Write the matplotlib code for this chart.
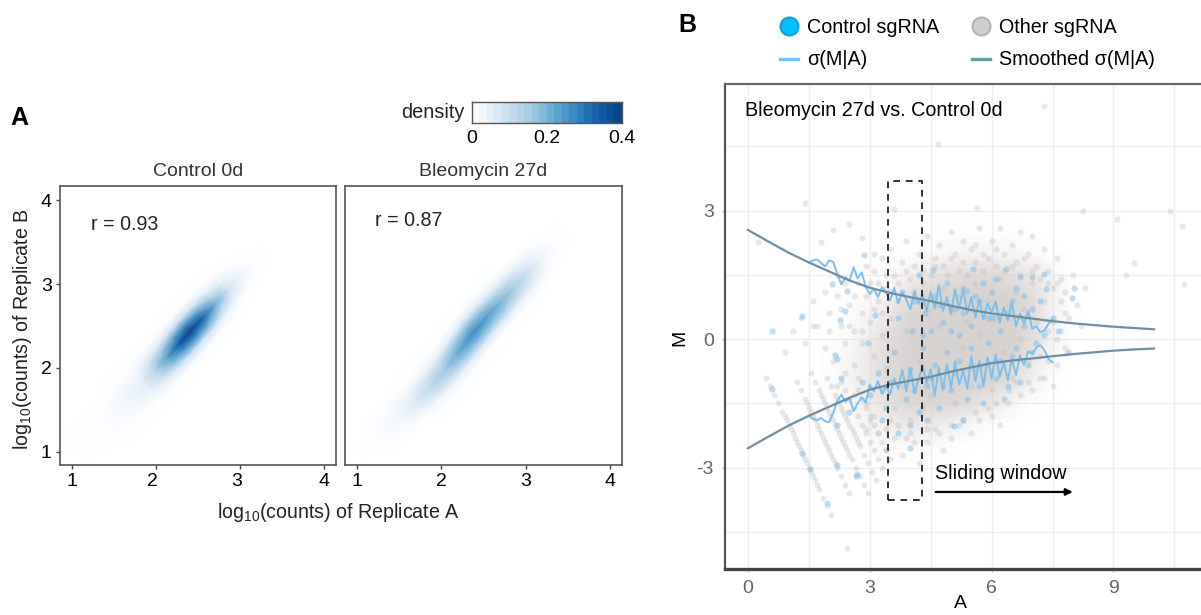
import numpy as np
import matplotlib
matplotlib.use("Agg")
import matplotlib.pyplot as plt
from matplotlib.colors import LinearSegmentedColormap
from matplotlib.lines import Line2D
from matplotlib.patches import Rectangle
from matplotlib.transforms import ScaledTranslation

plt.rcParams["font.family"] = ["Liberation Sans", "DejaVu Sans"]
plt.rcParams["mathtext.default"] = "regular"

W, H = 1201, 615

# panel A: density read across the ridge at each station along it
offsets = [-0.45, -0.3, -0.2, -0.1, 0, 0.1, 0.2, 0.3, 0.45]

ctrl_a = [0.95, 1.2, 1.45, 1.65, 1.85, 2.0, 2.15, 2.28, 2.4, 2.55, 2.7, 2.85, 3.0, 3.15, 3.35]
ctrl_b = [0.95, 1.15, 1.38, 1.6, 1.82, 1.98, 2.14, 2.29, 2.43, 2.59, 2.76, 2.93, 3.09, 3.26, 3.48]
ctrl_density = [
    [0, 0, 0, 0, 0, 0, 0, 0, 0],
    [0, .002, .004, .006, .007, .006, .005, .003, 0],
    [0, .003, .006, .010, .012, .012, .009, .005, 0],
    [0, .004, .012, .022, .027, .024, .015, .006, 0],
    [0, .005, .018, .040, .055, .050, .028, .008, 0],
    [0, .008, .040, .100, .140, .110, .050, .012, 0],
    [0, .010, .060, .170, .250, .190, .070, .015, 0],
    [0, .012, .080, .240, .350, .250, .090, .015, 0],
    [0, .012, .090, .270, .400, .270, .090, .012, 0],
    [0, .010, .080, .230, .340, .220, .070, .010, 0],
    [0, .006, .050, .140, .210, .130, .040, .005, 0],
    [0, .004, .020, .060, .090, .060, .015, .002, 0],
    [0, .002, .008, .020, .030, .020, .006, .001, 0],
    [0, 0, .002, .005, .008, .005, .002, 0, 0],
    [0, 0, 0, 0, 0, 0, 0, 0, 0],
]

bleo_a = [0.95, 1.2, 1.5, 1.7, 1.87, 2.05, 2.2, 2.38, 2.55, 2.7, 2.85, 3.0, 3.15, 3.3, 3.5]
bleo_b = [0.9, 1.1, 1.42, 1.6, 1.77, 1.98, 2.18, 2.42, 2.62, 2.78, 2.95, 3.11, 3.29, 3.47, 3.68]
bleo_density = [
    [0, 0, 0, 0, 0, 0, 0, 0, 0],
    [0, .001, .003, .005, .006, .005, .003, .001, 0],
    [0, .003, .010, .022, .030, .022, .010, .003, 0],
    [0, .004, .018, .050, .070, .050, .018, .004, 0],
    [0, .005, .028, .085, .115, .085, .028, .005, 0],
    [0, .006, .038, .115, .160, .115, .038, .006, 0],
    [0, .007, .052, .160, .220, .160, .052, .007, 0],
    [0, .008, .065, .195, .270, .195, .065, .008, 0],
    [0, .007, .058, .175, .240, .175, .058, .007, 0],
    [0, .006, .048, .145, .200, .145, .048, .006, 0],
    [0, .005, .036, .110, .150, .110, .036, .005, 0],
    [0, .003, .024, .070, .100, .070, .024, .003, 0],
    [0, .002, .010, .028, .040, .028, .010, .002, 0],
    [0, 0, .003, .009, .012, .009, .003, 0, 0],
    [0, 0, 0, 0, 0, 0, 0, 0, 0],
]

# panel B: how full the point cloud looks, rows M=3 .. -3, columns A=2 .. 8
cloud = [
    [0, 0, 0, 0, 0, 0, 0, 0, 0, 0, 0, 0, 0],
    [0, 0, 0, 0, 0, 0, .03, .03, .03, .03, 0, 0, 0],
    [0, 0, 0, 0, .04, .12, .2, .22, .22, .2, .12, .03, 0],
    [0, 0, .02, .12, .3, .55, .72, .8, .8, .7, .5, .2, 0],
    [0, .03, .1, .35, .7, .95, 1, 1, 1, .95, .75, .3, .02],
    [.02, .08, .25, .6, .95, 1, 1, 1, 1, 1, .8, .3, .02],
    [.03, .14, .4, .8, 1, 1, 1, 1, 1, 1, .75, .25, .01],
    [.05, .2, .5, .85, 1, 1, 1, 1, 1, .95, .55, .15, 0],
    [.06, .22, .5, .85, 1, 1, 1, 1, .95, .7, .3, .05, 0],
    [.05, .18, .4, .7, .88, .92, .88, .75, .5, .22, .05, 0, 0],
    [.03, .1, .22, .4, .5, .5, .35, .2, .08, .02, 0, 0, 0],
    [.01, .04, .08, .12, .12, .1, .05, .01, 0, 0, 0, 0, 0],
    [0, 0, 0, 0, 0, 0, 0, 0, 0, 0, 0, 0, 0],
]

other_points = [
    (7.3, 5.45), (4.67, 4.55), (1.4, 3.18), (5.63, 3.06), (8.26, 3.0), (10.4, 3.0), (10.7, 2.64), (9.1, 2.8),
    (9.5, 1.78), (10.75, 1.28), (9.3, 1.5), (3.6, 3.05), (2.5, 2.7), (2.1, 2.56), (2.8, 2.37), (1.8, 2.27),
    (0.25, 2.27), (2.44, -4.88), (3.1, 1.6), (3.3, 1.9), (3.5, 2.1), (3.6, 1.5), (3.8, 1.8), (3.9, 2.3),
    (4.0, 1.4), (4.2, 2.0), (4.3, 1.6), (4.4, 2.4), (4.6, 1.9), (4.7, 2.2), (4.8, 1.7), (5.0, 2.5),
    (5.1, 2.0), (5.2, 1.6), (5.3, 2.3), (5.5, 2.1), (5.6, 1.8), (5.7, 2.6), (5.8, 2.0), (6.0, 2.3),
    (6.1, 1.7), (6.2, 2.6), (6.3, 2.0), (6.5, 2.2), (6.6, 1.8), (6.7, 2.5), (6.9, 2.0), (7.0, 2.4),
    (7.1, 1.7), (7.3, 2.1), (7.4, 1.6), (7.6, 1.9), (7.7, 1.4), (7.8, 1.1), (8.0, 1.5), (8.3, 1.2),
    (8.1, 0.8), (7.9, 0.5), (8.2, 0.3), (1.6, 0.9), (1.9, 1.1), (2.0, 0.6), (2.2, 1.0), (2.3, 0.3),
    (2.5, 0.8), (2.6, 0.2), (2.7, 1.3), (2.8, 0.6), (2.9, 1.0), (1.1, 0.2), (0.9, -0.3), (1.4, -0.1),
    (1.7, 0.3), (1.9, -0.2), (2.1, -0.5), (2.4, -0.1), (2.6, -0.6), (2.8, -0.1), (3.0, 0.4), (3.1, -0.4),
    (3.2, 0.9), (3.3, 0.1), (3.4, -0.7), (3.5, 0.5), (3.2, -2.2), (3.4, -2.6), (3.6, -2.3), (3.8, -2.7),
    (4.0, -2.2), (4.2, -2.9), (4.4, -2.4), (4.6, -2.1), (4.8, -2.6), (5.0, -2.3), (5.2, -2.0), (5.5, -2.2),
    (5.7, -1.9), (6.0, -1.8), (6.2, -2.0), (6.4, -1.5), (6.7, -1.3), (7.0, -1.2), (7.3, -0.9), (7.6, -0.6),
    (7.5, -1.1), (3.7, 0.9), (3.9, 0.2), (4.1, 1.1), (4.2, -0.5), (4.4, 0.7), (4.5, -1.3), (4.7, 0.3),
    (4.8, 1.2), (4.9, -0.8), (5.0, 0.6), (5.1, -1.5), (5.2, 1.0), (5.3, -0.2), (5.4, 0.4), (5.5, -1.1),
    (5.6, 1.3), (5.7, 0.1), (5.8, -0.6), (5.9, 0.9), (6.0, -1.2), (6.1, 0.5), (6.2, 1.4), (6.3, -0.3),
    (6.4, 0.8), (6.5, -0.9), (6.6, 1.1), (6.7, 0.0), (6.8, 0.7), (6.9, -0.5), (7.0, 1.3), (7.1, 0.4),
    (7.2, -0.4), (7.3, 0.9), (7.4, 0.2), (7.5, 1.2), (3.6, -1.6), (3.8, -1.1), (4.0, -1.9), (4.3, -1.6),
    (2.9, -1.5), (3.0, -1.9), (3.3, -1.2), (3.5, -1.9), (2.6, -1.3), (2.7, -0.9), (2.4, -0.8), (2.2, -1.1),
    (3.0, 1.3), (3.2, 1.3), (3.4, 1.5), (3.5, 1.1), (3.7, 1.3), (3.9, 1.6), (4.1, 1.7), (4.3, 1.3),
    (4.5, 1.5), (4.6, 1.7), (4.9, 1.5), (5.0, 1.9), (5.3, 1.8), (5.4, 1.5), (5.6, 2.2), (5.8, 1.6),
    (5.9, 1.9), (6.1, 2.1), (6.3, 1.6), (6.5, 1.7), (6.7, 1.5), (6.8, 1.9), (7.0, 1.6), (7.2, 1.4),
    (7.4, 1.3), (7.6, 1.3), (7.7, 0.9), (7.8, 0.6), (7.7, 0.2), (7.8, -0.2), (7.5, 0.4), (7.6, 0.0),
    (7.4, -0.5), (7.2, -0.9), (6.9, -1.0), (6.6, -1.0), (6.4, -1.2), (6.1, -1.5), (5.9, -1.6), (5.6, -1.7),
    (5.3, -1.9), (5.0, -2.0), (4.7, -2.2), (4.4, -2.1), (4.1, -2.4), (3.9, -2.3), (3.7, -2.0), (3.4, -2.1),
    (3.1, -1.8), (2.9, -2.1), (2.8, 0.2), (2.5, 0.3), (2.3, 0.7), (2.0, 0.2), (1.6, 0.3), (1.3, 0.5),
    (3.1, 0.7), (3.3, 0.6), (3.4, 1.2), (2.6, 1.0), (2.4, 1.3), (2.2, 1.5), (2.9, 1.7), (3.1, 2.0),
]

stripe_points = [
    (.45, -.9), (.55, -1.1), (.65, -1.3), (.75, -1.5), (.85, -1.7), (.95, -1.9), (1.05, -2.1), (1.15, -2.3),
    (1.25, -2.5), (1.35, -2.7), (1.45, -2.9), (1.55, -3.1), (1.65, -3.3), (1.75, -3.5), (1.85, -3.7), (1.95, -3.9), (2.05, -4.1),
    (.9, -1.8), (1.0, -2.0), (1.1, -2.2), (1.2, -2.4), (1.3, -2.6), (1.4, -2.8), (1.5, -3.0), (1.6, -3.2), (1.7, -3.4),
    (1.2, -1.0), (1.3, -1.2), (1.4, -1.4), (1.5, -1.6), (1.6, -1.8), (1.7, -2.0), (1.8, -2.2), (1.9, -2.4),
    (2.0, -2.6), (2.1, -2.8), (2.2, -3.0), (2.3, -3.2), (2.4, -3.4), (2.5, -3.6),
    (1.45, -1.5), (1.55, -1.7), (1.65, -1.9), (1.75, -2.1), (1.85, -2.3), (1.95, -2.5), (2.05, -2.7), (2.15, -2.9),
    (1.55, -.8), (1.65, -1.0), (1.75, -1.2), (1.85, -1.4), (1.95, -1.6), (2.05, -1.8), (2.15, -2.0), (2.25, -2.2),
    (2.35, -2.4), (2.45, -2.6), (2.55, -2.8), (2.65, -3.0), (2.75, -3.2), (2.85, -3.4), (2.95, -3.6),
    (1.8, -1.3), (1.9, -1.5), (2.0, -1.7), (2.1, -1.9), (2.2, -2.1), (2.3, -2.3), (2.4, -2.5), (2.5, -2.7),
    (1.95, -.9), (2.05, -1.1), (2.15, -1.3), (2.25, -1.5), (2.35, -1.7), (2.45, -1.9), (2.55, -2.1), (2.65, -2.3),
    (2.75, -2.5), (2.85, -2.7), (2.95, -2.9), (3.05, -3.1), (3.15, -3.3),
    (2.2, -1.4), (2.3, -1.6), (2.4, -1.8), (2.5, -2.0), (2.6, -2.2), (2.7, -2.4),
    (2.3, -1.0), (2.4, -1.2), (2.5, -1.4), (2.6, -1.6), (2.7, -1.8), (2.8, -2.0), (2.9, -2.2), (3.0, -2.4), (3.1, -2.6), (3.2, -2.8), (3.3, -3.0),
    (2.7, -1.2), (2.8, -1.4), (2.9, -1.6), (3.0, -1.8), (3.1, -2.0), (3.2, -2.2), (3.3, -2.4), (3.4, -2.6), (3.5, -2.8),
]

control_points = [
    (.58, .18), (1.33, .53), (2.86, 1.96), (2.07, 1.29), (2.44, 1.12), (2.39, .65), (2.27, .44), (3.13, .56),
    (2.95, -.09), (2.14, -.37), (2.2, -.47), (8.03, 1.19), (7.97, .96), (7.64, .2), (7.88, -.3), (4.56, 1.61),
    (5.54, 1.63), (6.35, 1.63), (6.7, 1.45), (7.0, 1.45), (7.3, 1.53), (7.35, 1.18), (5.8, 1.3), (5.4, 1.12),
    (2.68, -3.15), (2.19, -2.95), (1.94, -3.83), (.59, -1.17), (1.33, -2.66), (1.53, -3.04), (3.99, -2.55),
    (5.07, -2.02), (5.3, -1.9), (2.66, -3.2), (3.4, -1.6), (3.5, -1.0), (3.6, -.3), (3.7, .5), (3.8, 1.1),
    (3.9, -1.4), (4.0, -.7), (4.05, .2), (4.1, .9), (4.2, -1.7), (4.2, 1.5), (4.3, -.2), (4.35, .6),
    (4.4, -1.1), (4.5, .2), (4.6, -.6), (4.6, 1.0), (4.7, -1.6), (4.8, .4), (4.9, -.3), (4.9, 1.3),
    (5.0, -1.2), (5.1, .7), (5.2, -.5), (5.2, .1), (5.3, 1.2), (5.4, -1.4), (5.5, .3), (5.6, -.7),
    (5.7, .9), (5.8, -1.5), (5.9, -.1), (6.0, .5), (6.0, 1.1), (6.1, -.9), (6.2, .2), (6.3, -1.4),
    (6.4, .6), (6.5, -.4), (6.6, 1.2), (6.7, -1.0), (6.8, .3), (6.9, -.6), (7.0, .7), (7.1, -.1),
    (7.2, .9), (7.3, .1), (7.5, .5), (3.2, -.8), (3.3, -1.9), (3.0, -1.3), (2.8, -1.0), (2.5, -1.7),
    (2.2, -2.0), (2.3, -.9), (4.0, -2.0), (4.4, -1.9), (3.7, -2.2), (4.1, -1.2), (4.3, .1), (4.5, -.9),
    (4.7, .8), (4.8, -1.1), (5.0, .2), (5.1, -.8), (5.3, .6), (5.5, -.2), (5.6, 1.0), (5.7, -1.1),
    (5.9, .5), (6.1, 1.4), (6.2, -.5), (6.4, -1.1), (6.5, .9), (6.6, -.2), (6.8, 1.0), (7.0, -.3),
]

smooth_a = [0, .5, 1, 1.5, 2, 2.5, 3, 3.5, 4, 4.5, 5, 5.5, 6, 6.5, 7, 7.5, 8, 8.5, 9, 9.5, 10]
smooth_up = [2.55, 2.28, 2.02, 1.79, 1.58, 1.37, 1.20, 1.08, .98, .89, .78, .68, .60, .54, .48, .42, .37, .33, .29, .26, .23]
smooth_low = [-2.55, -2.28, -2.02, -1.79, -1.58, -1.37, -1.18, -1.06, -.97, -.88, -.76, -.66, -.56, -.50, -.45, -.40, -.35, -.31, -.27, -.24, -.22]

raw_a = [1.5, 1.6, 1.7, 1.8, 1.9, 2.0, 2.1, 2.2, 2.3, 2.4, 2.5, 2.6, 2.7, 2.8, 2.9, 3.0, 3.1, 3.2, 3.3, 3.4, 3.5,
         3.6, 3.7, 3.8, 3.9, 4.0, 4.1, 4.2, 4.3, 4.4, 4.5, 4.6, 4.7, 4.8, 4.9, 5.0, 5.1, 5.2, 5.3, 5.4, 5.5,
         5.6, 5.7, 5.8, 5.9, 6.0, 6.1, 6.2, 6.3, 6.4, 6.5, 6.6, 6.7, 6.8, 6.9, 7.0, 7.1, 7.2, 7.3, 7.4, 7.5]
raw_up = [1.79, 1.84, 1.86, 1.78, 1.70, 1.84, 1.80, 1.52, 1.28, 1.45, 1.36, 1.68, 1.42, 1.56, 1.22, 1.05, 1.18, .98, 1.22, 1.08, .90,
          1.20, .84, 1.10, .92, .70, 1.12, .82, 1.04, .66, 1.10, .72, 1.26, .66, .98, .58, 1.16, .72, 1.18, .60, .98,
          .50, .92, .46, .84, .62, .88, .38, .74, .44, .86, .30, .60, .36, .66, .24, .30, .16, .20, .36, .46]
raw_low = [-1.79, -1.86, -1.90, -1.84, -1.92, -1.94, -1.72, -1.44, -1.30, -1.46, -1.38, -1.68, -1.50, -1.36, -1.48, -1.06, -1.22, -.98, -1.28, -1.10, -1.30,
           -.92, -1.16, -.72, -1.22, -.68, -1.26, -.94, -.62, -1.02, -.70, -1.32, -.66, -1.18, -.58, -1.14, -.52, -1.06, -.74, -1.16, -.40,
           -.98, -.50, -1.10, -.42, -.92, -.36, -.88, -.54, -.96, -.46, -.84, -.38, -.60, -.28, -.34, -.20, -.14, -.26, -.46, -.54]

# Blues with a pure white start, as the colour bar shows
density_cmap = LinearSegmentedColormap.from_list(
    "dens", ["#ffffff", "#eaf2fa", "#d0e1f2", "#b5d4e9", "#8fc2de", "#63a8d3", "#3f8fc5", "#2070b4", "#0e56a0", "#084184"])
cloud_cmap = LinearSegmentedColormap.from_list(
    "cloud", [(0.83, 0.81, 0.80, 0.0), (0.83, 0.81, 0.80, 0.9)])
bar_levels = [.01, .03, .05, .07, .09, .11, .13, .15, .17, .19, .21, .23, .25, .27, .29, .31, .33, .35, .37, .39]


def px_axes(x0, y0, x1, y1):
    return fig.add_axes([x0 / W, 1 - y1 / H, (x1 - x0) / W, (y1 - y0) / H])


fig = plt.figure(figsize=(W / 100, H / 100), dpi=100)

# ---- A ----
panels = [
    (60, 336, ctrl_a, ctrl_b, ctrl_density, "Control 0d", "r = 0.93", 1.22, 3.71),
    (345, 622, bleo_a, bleo_b, bleo_density, "Bleomycin 27d", "r = 0.87", 1.21, 3.76),
]
for i, (x0, x1, a, b, dens, title, rtext, rx, ry) in enumerate(panels):
    ax = px_axes(x0, 186, x1, 465)
    X = np.array(a)[:, None] + 0.65 * np.array(offsets)[None, :]
    Y = np.array(b)[:, None] - 0.65 * np.array(offsets)[None, :]
    ax.pcolormesh(X, Y, np.array(dens), shading="gouraud", cmap=density_cmap, vmin=0, vmax=0.4)
    ax.set_xlim(0.857, 4.14)
    ax.set_ylim(0.845, 4.167)
    ax.set_xticks([1, 2, 3, 4])
    ax.set_yticks([1, 2, 3, 4])
    if i == 1:
        ax.tick_params(left=False, labelleft=False)
    ax.tick_params(length=3, width=1, color="#444444", labelsize=14, pad=3)
    for s in ax.spines.values():
        s.set_color("#555555")
        s.set_linewidth(1.2)
    ax.set_title(title, fontsize=14, color="#333333", pad=7)
    ax.text(rx, ry, rtext, fontsize=14.1, color="#222222", va="center")
    if i == 0:
        # the labels 2 and 3 sit a little left of their ticks in the original
        for lbl in ax.get_xticklabels()[1:3]:
            lbl.set_transform(lbl.get_transform() + ScaledTranslation(-4 / 100, 0, fig.dpi_scale_trans))

fig.text(338 / W, 1 - 512 / H, r"log$_{10}$(counts) of Replicate A", fontsize=14.1, ha="center", va="center", color="#222222")
fig.text(23 / W, 1 - 329 / H, r"log$_{10}$(counts) of Replicate B", fontsize=14.1, ha="center", va="center",
         rotation=90, color="#222222")
fig.text(19 / W, 1 - 118 / H, "A", fontsize=18, fontweight="bold", ha="center", va="center")
fig.text(687 / W, 1 - 25 / H, "B", fontsize=18, fontweight="bold", ha="center", va="center")

cax = px_axes(472, 102, 622, 123)
cax.imshow([bar_levels], extent=[0, 0.4, 0, 1], aspect="auto", cmap=density_cmap, vmin=0, vmax=0.4, interpolation="nearest")
cax.set_yticks([])
cax.set_xticks([0, 0.2, 0.4], ["0", "0.2", "0.4"])
cax.tick_params(length=0, labelsize=14, pad=5)
for s in cax.spines.values():
    s.set_color("#555555")
    s.set_linewidth(1)
fig.text(464 / W, 1 - 112 / H, "density", fontsize=14.4, ha="right", va="center", color="#222222")

# ---- B ----
bx = px_axes(725, 84, 1206, 569)
bx.set_xticks([0, 3, 6, 9])
bx.set_yticks([-3, 0, 3], ["-3", "0", "3"])
bx.set_xticks([1.5, 4.5, 7.5, 10.5], minor=True)
bx.set_yticks([-4.5, -1.5, 1.5, 4.5], minor=True)
bx.grid(True, which="both", color="#eeeeee", lw=1)
bx.set_axisbelow(True)
bx.tick_params(which="minor", length=0)
bx.tick_params(length=2, width=0.8, color="#bbbbbb", labelcolor="#666666", labelsize=14, pad=6)
bx.spines["right"].set_visible(False)
bx.spines["top"].set_color("#666666")
bx.spines["top"].set_linewidth(1.6)
bx.spines["left"].set_color("#555555")
bx.spines["left"].set_linewidth(1.6)
bx.spines["bottom"].set_color("#444444")
bx.spines["bottom"].set_linewidth(2.4)

bx.imshow(cloud, extent=[1.75, 8.25, -3.25, 3.25], aspect="auto", cmap=cloud_cmap, vmin=0, vmax=1,
          interpolation="bilinear", zorder=1.5)
oa, om = zip(*other_points)
bx.scatter(oa, om, s=20, color="#c4c0be", alpha=0.36, lw=0, zorder=2)
sa, sm = zip(*stripe_points)
bx.scatter(sa, sm, s=18, color="#bdbbba", alpha=0.34, lw=0, zorder=2)
ca, cm = zip(*control_points)
bx.scatter(ca, cm, s=20, color="#7dbdec", alpha=0.5, lw=0, zorder=2.5)

bx.plot(raw_a, raw_up, color="#7cc0ee", lw=1.4, zorder=3)
bx.plot(raw_a, raw_low, color="#7cc0ee", lw=1.4, zorder=3)
bx.plot(smooth_a, smooth_up, color="#6f8ea3", lw=1.6, zorder=4)
bx.plot(smooth_a, smooth_low, color="#6f8ea3", lw=1.6, zorder=4)

bx.add_patch(Rectangle((3.45, -3.76), 0.83, 7.45, fill=False, ec="#111111", lw=1.2, ls=(0, (4, 3.5)), zorder=5))
bx.annotate("", xy=(8.0, -3.57), xytext=(4.62, -3.57), arrowprops=dict(arrowstyle="-|>", color="black", lw=1.6, shrinkA=0, shrinkB=0), zorder=5)
bx.text(4.6, -3.15, "Sliding window", fontsize=14.2, va="center", zorder=5)
bx.text(-0.07, 5.33, "Bleomycin 27d vs. Control 0d", fontsize=14.2, va="center", zorder=5)
bx.set_xlim(-0.566, 11.28)
bx.set_ylim(-5.37, 5.96)

fig.text(680 / W, 1 - 338 / H, "M", fontsize=14, rotation=90, ha="center", va="center")
fig.text(960 / W, 1 - 604 / H, "A", fontsize=14, ha="center", va="center")

handles = [
    Line2D([], [], ls="", marker="o", ms=13, mfc="#00bfff", mec="#0a9fd6", mew=1.4),
    Line2D([], [], color="#6fc8ff", lw=2.4),
    Line2D([], [], ls="", marker="o", ms=13, mfc="#cfcfcf", mec="#b0b0b0", mew=1.4),
    Line2D([], [], color="#6a9a9e", lw=2.4),
]
fig.legend(handles, ["Control sgRNA", "σ(M|A)", "Other sgRNA", "Smoothed σ(M|A)"], ncol=2, frameon=False, fontsize=14.2,
           loc="upper left", bbox_to_anchor=(780 / W, 1 - 18 / H), bbox_transform=fig.transFigure,
           handlelength=0.91, handletextpad=0.46, columnspacing=1.67, labelspacing=0.68, borderpad=0, borderaxespad=0)

fig.savefig("out.png", dpi=100)
